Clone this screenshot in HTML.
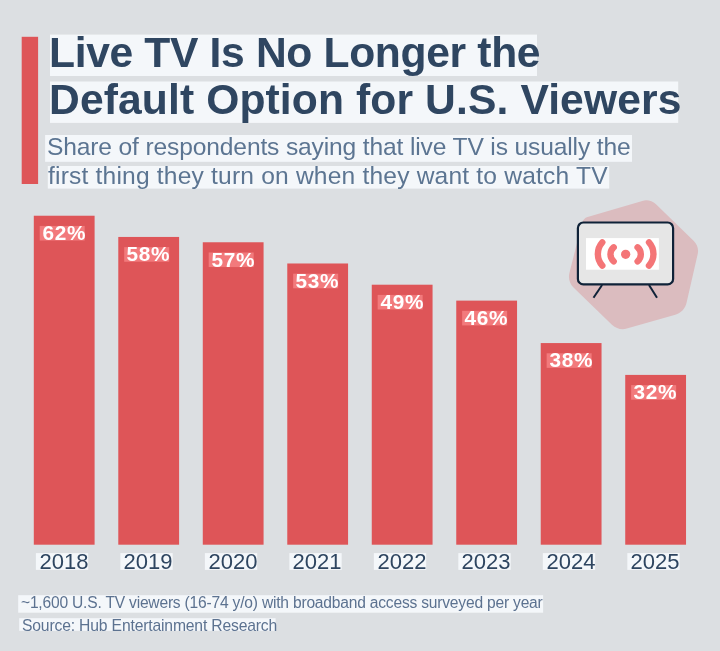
<!DOCTYPE html>
<html><head><meta charset="utf-8"><style>
html,body{margin:0;padding:0;}
body{width:720px;height:651px;overflow:hidden;position:relative;background:#dcdfe2;font-family:"Liberation Sans", sans-serif;}
div{will-change:transform;}
</style></head><body>
<svg style="position:absolute;left:0;top:0" width="720" height="651" viewBox="0 0 720 651">
<path d="M587.6,217.1 L642.3,200.9 C647.1,199.5 652.3,200.8 656.0,204.3 L693.8,240.9 C697.3,244.3 698.8,249.3 697.7,254.1 L686.5,303.0 C685.2,308.7 680.9,313.2 675.3,314.8 L626.8,328.6 C621.6,330.1 616.1,328.7 612.2,325.0 L573.5,287.5 C569.7,283.8 568.1,278.3 569.4,273.1 L582.1,222.8 C582.8,220.1 584.9,217.9 587.6,217.1 Z" fill="#dbbcbf"/>
<rect x="577.9" y="222.5" width="95.2" height="61.9" rx="5.5" fill="#e6e6e6" stroke="#0f2238" stroke-width="2.2"/>
<rect x="586" y="238.1" width="72.9" height="31.6" fill="#ffffff"/>
<line x1="602.1" y1="285" x2="593.5" y2="297.8" stroke="#0f2238" stroke-width="2"/>
<line x1="649" y1="285" x2="657" y2="297.8" stroke="#0f2238" stroke-width="2"/>
<circle cx="625.65" cy="254.3" r="4.65" fill="#f47577"/>
<g fill="none" stroke="#f47577" stroke-width="6.4" stroke-linecap="round">
<path d="M602.3,242.4 A17.5,17.5 0 0 0 602.3,265.7"/>
<path d="M613.7,247.3 A9.3,9.3 0 0 0 613.7,261.4"/>
<path d="M649,242.4 A17.5,17.5 0 0 1 649,265.7"/>
<path d="M637.6,247.3 A9.3,9.3 0 0 1 637.6,261.4"/>
</g>
</svg>
<svg style="position:absolute;left:0;top:0" width="720" height="651" viewBox="0 0 720 651"><rect x="21.70" y="36.80" width="16.40" height="147.20" fill="#de5558"/><rect x="50.00" y="34.60" width="487.00" height="41.40" fill="#f4f7fa"/><rect x="50.00" y="81.50" width="628.20" height="41.40" fill="#f4f7fa"/><rect x="45.10" y="135.00" width="586.90" height="26.80" fill="#f4f7fa"/><rect x="47.80" y="166.00" width="561.40" height="22.60" fill="#f4f7fa"/><rect x="18.20" y="595.20" width="524.90" height="17.50" fill="#f4f7fa"/><rect x="19.20" y="618.20" width="256.40" height="12.60" fill="#f4f7fa"/><rect x="33.80" y="215.73" width="60.80" height="328.97" fill="#de5558"/><rect x="39.70" y="225.93" width="45.00" height="14.60" fill="#f27a7c"/><rect x="35.90" y="553.10" width="52.30" height="16.80" fill="#f4f7fa"/><rect x="118.29" y="236.95" width="60.80" height="307.75" fill="#de5558"/><rect x="124.19" y="247.15" width="45.00" height="14.60" fill="#f27a7c"/><rect x="120.39" y="553.10" width="52.30" height="16.80" fill="#f4f7fa"/><rect x="202.78" y="242.26" width="60.80" height="302.44" fill="#de5558"/><rect x="208.68" y="252.46" width="45.00" height="14.60" fill="#f27a7c"/><rect x="204.88" y="553.10" width="52.30" height="16.80" fill="#f4f7fa"/><rect x="287.27" y="263.48" width="60.80" height="281.22" fill="#de5558"/><rect x="293.17" y="273.68" width="45.00" height="14.60" fill="#f27a7c"/><rect x="289.37" y="553.10" width="52.30" height="16.80" fill="#f4f7fa"/><rect x="371.76" y="284.71" width="60.80" height="259.99" fill="#de5558"/><rect x="377.66" y="294.91" width="45.00" height="14.60" fill="#f27a7c"/><rect x="373.86" y="553.10" width="52.30" height="16.80" fill="#f4f7fa"/><rect x="456.25" y="300.62" width="60.80" height="244.08" fill="#de5558"/><rect x="462.15" y="310.82" width="45.00" height="14.60" fill="#f27a7c"/><rect x="458.35" y="553.10" width="52.30" height="16.80" fill="#f4f7fa"/><rect x="540.74" y="343.07" width="60.80" height="201.63" fill="#de5558"/><rect x="546.64" y="353.27" width="45.00" height="14.60" fill="#f27a7c"/><rect x="542.84" y="553.10" width="52.30" height="16.80" fill="#f4f7fa"/><rect x="625.23" y="374.91" width="60.80" height="169.79" fill="#de5558"/><rect x="631.13" y="385.11" width="45.00" height="14.60" fill="#f27a7c"/><rect x="627.33" y="553.10" width="52.30" height="16.80" fill="#f4f7fa"/></svg>
<div style="position:absolute;left:-36.40px;width:200px;text-align:center;top:223.03px;font-size:20.8px;line-height:20.8px;color:#ffffff;font-weight:700;letter-spacing:0.675px;text-indent:0.675px;white-space:nowrap">62%</div><div style="position:absolute;left:-36.40px;width:200px;text-align:center;top:551.30px;font-size:22.0px;line-height:22.0px;color:#2e4560;font-weight:400;letter-spacing:0.033px;text-indent:0.033px;white-space:nowrap">2018</div><div style="position:absolute;left:48.09px;width:200px;text-align:center;top:244.25px;font-size:20.8px;line-height:20.8px;color:#ffffff;font-weight:700;letter-spacing:0.675px;text-indent:0.675px;white-space:nowrap">58%</div><div style="position:absolute;left:48.09px;width:200px;text-align:center;top:551.30px;font-size:22.0px;line-height:22.0px;color:#2e4560;font-weight:400;letter-spacing:0.033px;text-indent:0.033px;white-space:nowrap">2019</div><div style="position:absolute;left:132.58px;width:200px;text-align:center;top:249.56px;font-size:20.8px;line-height:20.8px;color:#ffffff;font-weight:700;letter-spacing:0.675px;text-indent:0.675px;white-space:nowrap">57%</div><div style="position:absolute;left:132.58px;width:200px;text-align:center;top:551.30px;font-size:22.0px;line-height:22.0px;color:#2e4560;font-weight:400;letter-spacing:0.033px;text-indent:0.033px;white-space:nowrap">2020</div><div style="position:absolute;left:217.07px;width:200px;text-align:center;top:270.78px;font-size:20.8px;line-height:20.8px;color:#ffffff;font-weight:700;letter-spacing:0.675px;text-indent:0.675px;white-space:nowrap">53%</div><div style="position:absolute;left:217.07px;width:200px;text-align:center;top:551.30px;font-size:22.0px;line-height:22.0px;color:#2e4560;font-weight:400;letter-spacing:0.033px;text-indent:0.033px;white-space:nowrap">2021</div><div style="position:absolute;left:301.56px;width:200px;text-align:center;top:292.01px;font-size:20.8px;line-height:20.8px;color:#ffffff;font-weight:700;letter-spacing:0.675px;text-indent:0.675px;white-space:nowrap">49%</div><div style="position:absolute;left:301.56px;width:200px;text-align:center;top:551.30px;font-size:22.0px;line-height:22.0px;color:#2e4560;font-weight:400;letter-spacing:0.033px;text-indent:0.033px;white-space:nowrap">2022</div><div style="position:absolute;left:386.05px;width:200px;text-align:center;top:307.92px;font-size:20.8px;line-height:20.8px;color:#ffffff;font-weight:700;letter-spacing:0.675px;text-indent:0.675px;white-space:nowrap">46%</div><div style="position:absolute;left:386.05px;width:200px;text-align:center;top:551.30px;font-size:22.0px;line-height:22.0px;color:#2e4560;font-weight:400;letter-spacing:0.033px;text-indent:0.033px;white-space:nowrap">2023</div><div style="position:absolute;left:470.54px;width:200px;text-align:center;top:350.37px;font-size:20.8px;line-height:20.8px;color:#ffffff;font-weight:700;letter-spacing:0.675px;text-indent:0.675px;white-space:nowrap">38%</div><div style="position:absolute;left:470.54px;width:200px;text-align:center;top:551.30px;font-size:22.0px;line-height:22.0px;color:#2e4560;font-weight:400;letter-spacing:0.033px;text-indent:0.033px;white-space:nowrap">2024</div><div style="position:absolute;left:555.03px;width:200px;text-align:center;top:382.21px;font-size:20.8px;line-height:20.8px;color:#ffffff;font-weight:700;letter-spacing:0.675px;text-indent:0.675px;white-space:nowrap">32%</div><div style="position:absolute;left:555.03px;width:200px;text-align:center;top:551.30px;font-size:22.0px;line-height:22.0px;color:#2e4560;font-weight:400;letter-spacing:0.033px;text-indent:0.033px;white-space:nowrap">2025</div><div style="position:absolute;left:48.75px;top:30.90px;font-size:42.6px;line-height:42.6px;color:#2f4661;font-weight:700;letter-spacing:-0.341px;white-space:nowrap">Live TV Is No Longer the</div><div style="position:absolute;left:48.75px;top:77.70px;font-size:42.6px;line-height:42.6px;color:#2f4661;font-weight:700;letter-spacing:0.12px;white-space:nowrap">Default Option for U.S. Viewers</div><div style="position:absolute;left:47.25px;top:134.90px;font-size:24.6px;line-height:24.6px;color:#5c7592;font-weight:400;letter-spacing:-0.146px;white-space:nowrap">Share of respondents saying that live TV is usually the</div><div style="position:absolute;left:48.05px;top:163.50px;font-size:24.6px;line-height:24.6px;color:#5c7592;font-weight:400;letter-spacing:0.182px;white-space:nowrap">first thing they turn on when they want to watch TV</div><div style="position:absolute;left:21.35px;top:594.70px;font-size:15.6px;line-height:15.6px;color:#5c7290;font-weight:400;letter-spacing:-0.204px;white-space:nowrap">~1,600 U.S. TV viewers (16-74 y/o) with broadband access surveyed per year</div><div style="position:absolute;left:21.55px;top:617.70px;font-size:15.7px;line-height:15.7px;color:#5c7290;font-weight:400;letter-spacing:-0.165px;white-space:nowrap">Source: Hub Entertainment Research</div>
</body></html>
